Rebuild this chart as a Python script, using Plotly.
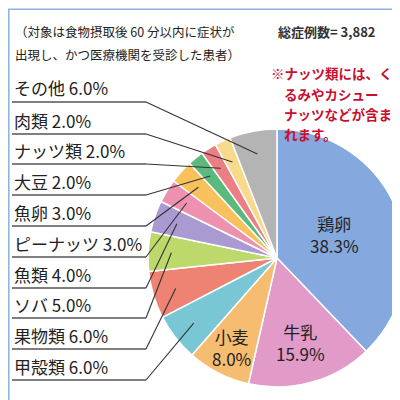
import math
import plotly.graph_objects as go

# 食物アレルギー原因食物の内訳
names = ['鶏卵', '牛乳', '小麦', '甲殻類', '果物類', 'ソバ', '魚類',
         'ピーナッツ', '魚卵', '大豆', 'ナッツ類', '肉類', 'その他']
values = [38.3, 15.9, 8.0, 6.0, 6.0, 5.0, 4.0, 3.0, 3.0, 2.0, 2.0, 2.0, 6.0]
colors = ['#85A9DE', '#E29AC9', '#F6BD70', '#79C7D5', '#EE8374', '#BDD86B', '#A99AD1',
          '#EE90AF', '#F9C15B', '#5CB97E', '#EC7F84', '#F8DA8C', '#B4B4B4']
inside = ['鶏卵', '牛乳', '小麦']
total_cases = '3,882'
note_lines = ['※ナッツ類には、く', 'るみやカシュー', 'ナッツなどが含ま', 'れます。']

W = H = 400
FONT = 'Noto Sans CJK JP'

# 円の位置 (ピクセル)
cx, cy, R = 269, 250, 129

def px(x):
    return x / W

def py(y):
    return 1 - y / H

fig = go.Figure()

fig.add_trace(go.Pie(
    labels=names,
    values=values,
    sort=False,
    direction='clockwise',
    rotation=0,
    textinfo='none',
    marker=dict(colors=colors, line=dict(color='white', width=1.5)),
    domain=dict(x=[px(cx - R), px(cx + R)], y=[py(cy + R), py(cy - R)]),
    showlegend=False,
    hoverinfo='label+percent',
))

shapes = []
annotations = []

total = sum(values)
cum = 0
mid = {}
for n, v in zip(names, values):
    mid[n] = (cum + v / 2) / total
    cum += v

def slice_point(n, k):
    th = 2 * math.pi * mid[n]
    return cx + R * k * math.sin(th), cy - R * k * math.cos(th)

# 円の中のラベル
inside_k = {'鶏卵': 0.48, '牛乳': 0.68, '小麦': 0.78}
for n in inside:
    v = values[names.index(n)]
    x, y = slice_point(n, inside_k[n])
    annotations.append(dict(
        x=px(x), y=py(y), xref='paper', yref='paper', xanchor='center', yanchor='middle',
        text=f'{n}<br>{v:.1f}%', showarrow=False,
        font=dict(family=FONT, size=17, color='#222222')))

# 左側ラベル（上から その他 → 甲殻類）
outside = [n for n in names if n not in inside][::-1]
label_y = [80, 112, 142, 173, 204, 235, 266, 296, 327, 358]
for n, ly in zip(outside, label_y):
    v = values[names.index(n)]
    annotations.append(dict(
        x=px(4), y=py(ly), xref='paper', yref='paper', xanchor='left', yanchor='middle',
        text=f'{n} {v:.1f}%', showarrow=False,
        font=dict(family=FONT, size=17, color='#222222')))
    uy = ly + 14
    ex, ey = slice_point(n, 0.82)
    # 下線
    shapes.append(dict(type='line', xref='paper', yref='paper',
                       x0=px(4), y0=py(uy), x1=px(138), y1=py(uy),
                       line=dict(color='#555555', width=1.6)))
    # 引き出し線
    shapes.append(dict(type='line', xref='paper', yref='paper',
                       x0=px(138), y0=py(uy), x1=px(ex), y1=py(ey),
                       line=dict(color='#333333', width=1.1)))

# 注釈
annotations.append(dict(x=px(5), y=py(23), xref='paper', yref='paper', xanchor='left', yanchor='middle',
                        text='（対象は食物摂取後 60 分以内に症状が', showarrow=False,
                        font=dict(family=FONT, size=12.5, color='#222222')))
annotations.append(dict(x=px(5), y=py(47), xref='paper', yref='paper', xanchor='left', yanchor='middle',
                        text='出現し、かつ医療機関を受診した患者）', showarrow=False,
                        font=dict(family=FONT, size=12.5, color='#222222')))
annotations.append(dict(x=px(268), y=py(23), xref='paper', yref='paper', xanchor='left', yanchor='middle',
                        text=f'<b>総症例数= {total_cases}</b>', showarrow=False,
                        font=dict(family=FONT, size=13, color='#333333')))

note_x = [261, 274, 274, 274]
note_y = [65, 86, 106, 126]
for t, nx, ny in zip(note_lines, note_x, note_y):
    annotations.append(dict(x=px(nx), y=py(ny), xref='paper', yref='paper', xanchor='left', yanchor='middle',
                            text=f'<b>{t}</b>', showarrow=False,
                            font=dict(family=FONT, size=13.5, color='#C8102E')))

# 外枠
shapes.append(dict(type='rect', xref='paper', yref='paper', x0=0.002, y0=0.003, x1=0.998, y1=0.997,
                   line=dict(color='#8DB0E0', width=1.5)))

fig.update_layout(
    width=W, height=H,
    margin=dict(l=0, r=0, t=0, b=0),
    paper_bgcolor='white',
    plot_bgcolor='white',
    shapes=shapes,
    annotations=annotations,
)

fig.write_html('out.html')
